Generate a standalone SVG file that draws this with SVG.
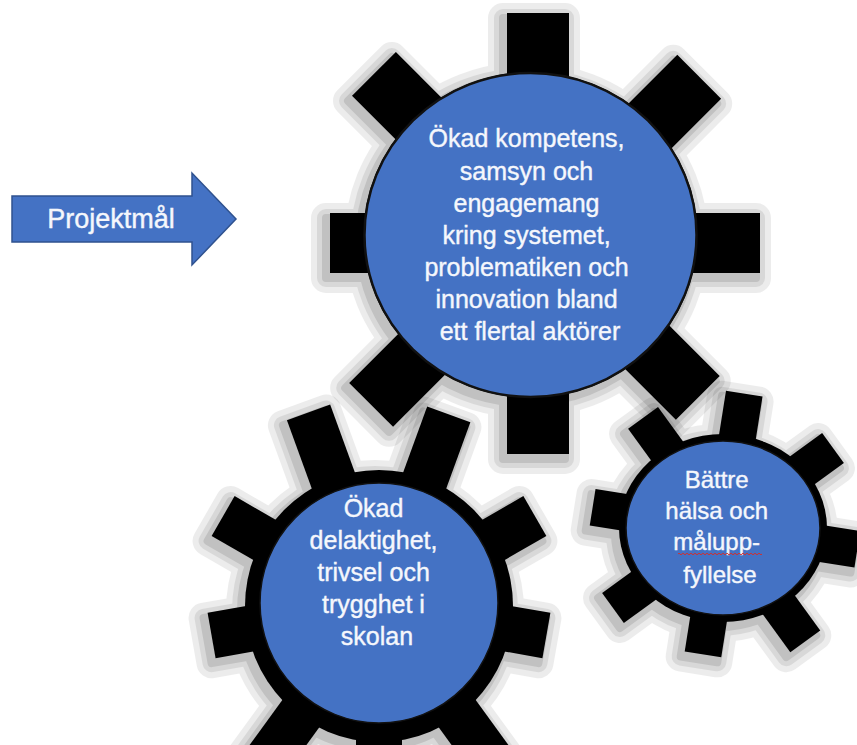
<svg xmlns="http://www.w3.org/2000/svg" xmlns:xlink="http://www.w3.org/1999/xlink" width="857" height="745" viewBox="0 0 857 745">
<style>
.blue{fill:#4472C4}
.tooth{fill:#000}
.lbl{font-family:"Liberation Sans","Open Sans",sans-serif;fill:#F5F7FC;stroke:#F5F7FC;stroke-width:0.4;text-anchor:middle}
.sh{stroke:#000;stroke-linejoin:round;fill:#000}
.s1{opacity:0.07}
.s2{opacity:0.08}
.s3{opacity:0.1}
</style>
<defs>
<g id="t-main">
<rect class="tooth" x="507" y="13" width="62" height="225"/>
<rect class="tooth" x="507" y="238" width="62" height="216"/>
<rect class="tooth" x="330" y="213" width="208" height="60"/>
<rect class="tooth" x="538" y="213" width="222" height="60"/>
<g transform="translate(538,238)">
<rect class="tooth" x="-31" y="-232" width="62" height="232" transform="rotate(-45)"/>
<rect class="tooth" x="-31" y="-228" width="62" height="228" transform="rotate(45)"/>
<rect class="tooth" x="-31" y="-226" width="62" height="226" transform="rotate(135)"/>
<rect class="tooth" x="-31" y="-236" width="62" height="236" transform="rotate(-135)"/>
</g>
<ellipse class="tooth" cx="530.5" cy="235" rx="167" ry="163"/>
</g>
<g id="t-left">
<g transform="translate(379,606)">
<rect class="tooth" x="-23" y="-206" width="46" height="206" transform="rotate(-20)"/>
<rect class="tooth" x="-23" y="-204" width="46" height="204" transform="rotate(20)"/>
<rect class="tooth" x="-23" y="-180" width="46" height="180" transform="rotate(60)"/>
<rect class="tooth" x="-23" y="-170" width="46" height="170" transform="rotate(100)"/>
<rect class="tooth" x="-23" y="-195" width="46" height="195" transform="rotate(144)"/>
<rect class="tooth" x="-23" y="-195" width="46" height="195" transform="rotate(180)"/>
<rect class="tooth" x="-23" y="-195" width="46" height="195" transform="rotate(216)"/>
<rect class="tooth" x="-23" y="-170" width="46" height="170" transform="rotate(260)"/>
<rect class="tooth" x="-23" y="-180" width="46" height="180" transform="rotate(300)"/>
<ellipse class="tooth" rx="134" ry="136"/>
</g>
</g>
<g id="t-right">
<g transform="translate(723,528)">
<rect class="tooth" x="-18.5" y="-136" width="37" height="136" transform="rotate(9)"/>
<rect class="tooth" x="-18.5" y="-136" width="37" height="136" transform="rotate(54)"/>
<rect class="tooth" x="-18.5" y="-136" width="37" height="136" transform="rotate(99)"/>
<rect class="tooth" x="-18.5" y="-140" width="37" height="140" transform="rotate(144)"/>
<rect class="tooth" x="-18.5" y="-128" width="37" height="128" transform="rotate(189)"/>
<rect class="tooth" x="-18.5" y="-136" width="37" height="136" transform="rotate(234)"/>
<rect class="tooth" x="-18.5" y="-132" width="37" height="132" transform="rotate(279)"/>
<rect class="tooth" x="-18.5" y="-136" width="37" height="136" transform="rotate(324)"/>
<ellipse class="tooth" rx="104" ry="94"/>
</g>
</g>
</defs>
<rect width="857" height="745" fill="#fff"/>

<g id="shadows">
<g class="s1"><use xlink:href="#t-main" href="#t-main" class="sh" stroke-width="30" transform="translate(-4,5)"/></g>
<g class="s2"><use xlink:href="#t-main" href="#t-main" class="sh" stroke-width="18" transform="translate(-4,5)"/></g>
<g class="s3"><use xlink:href="#t-main" href="#t-main" class="sh" stroke-width="8" transform="translate(-4,5)"/></g>
<g class="s1"><use xlink:href="#t-left" href="#t-left" class="sh" stroke-width="30" transform="translate(-4,5)"/></g>
<g class="s2"><use xlink:href="#t-left" href="#t-left" class="sh" stroke-width="18" transform="translate(-4,5)"/></g>
<g class="s3"><use xlink:href="#t-left" href="#t-left" class="sh" stroke-width="8" transform="translate(-4,5)"/></g>
<g class="s1"><use xlink:href="#t-right" href="#t-right" class="sh" stroke-width="30" transform="translate(-4,5)"/></g>
<g class="s2"><use xlink:href="#t-right" href="#t-right" class="sh" stroke-width="18" transform="translate(-4,5)"/></g>
<g class="s3"><use xlink:href="#t-right" href="#t-right" class="sh" stroke-width="8" transform="translate(-4,5)"/></g>
</g>

<g id="projektmal">
<polygon points="12,196 192,196 192,173 236,219 192,265 192,242 12,242" fill="#4472C4" stroke="#2F528F" stroke-width="1.5"/>
<text class="lbl" x="111" y="228" font-size="27">Projektmål</text>
</g>

<g id="gear-main">
<use xlink:href="#t-main" href="#t-main"/>
<ellipse class="blue" cx="530.5" cy="235" rx="166" ry="162" stroke="#111" stroke-width="2.5"/>
<text class="lbl" font-size="25">
<tspan x="530" y="147">Ökad kompetens,</tspan>
<tspan x="530" y="180">samsyn och</tspan>
<tspan x="530" y="212">engagemang</tspan>
<tspan x="530" y="244">kring systemet,</tspan>
<tspan x="530" y="276">problematiken och</tspan>
<tspan x="530" y="308">innovation bland</tspan>
<tspan x="530" y="340">ett flertal aktörer</tspan>
</text>
</g>

<g id="gear-left">
<use xlink:href="#t-left" href="#t-left"/>
<ellipse class="blue" cx="379" cy="603" rx="119" ry="120" stroke="#111" stroke-width="1.5"/>
<text class="lbl" font-size="25">
<tspan x="377" y="517">Ökad</tspan>
<tspan x="377" y="549">delaktighet,</tspan>
<tspan x="377" y="581">trivsel och</tspan>
<tspan x="377" y="613">trygghet i</tspan>
<tspan x="377" y="645">skolan</tspan>
</text>
</g>

<g id="gear-right">
<use xlink:href="#t-right" href="#t-right"/>
<ellipse class="blue" cx="723" cy="528" rx="97" ry="87" stroke="#111" stroke-width="1.5"/>
<text class="lbl" font-size="24">
<tspan x="720" y="488">Bättre</tspan>
<tspan x="720" y="519">hälsa och</tspan>
<tspan x="720" y="550">målupp-</tspan>
<tspan x="720" y="583">fyllelse</tspan>
</text>
<path d="M678 554 q1 -1.6 2 0 t2 0 t2 0 t2 0 t2 0 t2 0 t2 0 t2 0 t2 0 t2 0 t2 0 t2 0 t2 0 t2 0 t2 0 t2 0 t2 0 t2 0 t2 0 t2 0 t2 0 t2 0 t2 0 t2 0 t2 0 t2 0 t2 0 t2 0 t2 0 t2 0 t2 0 t2 0 t2 0 t2 0 t2 0 t2 0 t2 0 t2 0 t2 0 t2 0 t2 0 t2 0" fill="none" stroke="#D03030" stroke-width="1"/>
</g>

<g id="connectors"/>
</svg>
